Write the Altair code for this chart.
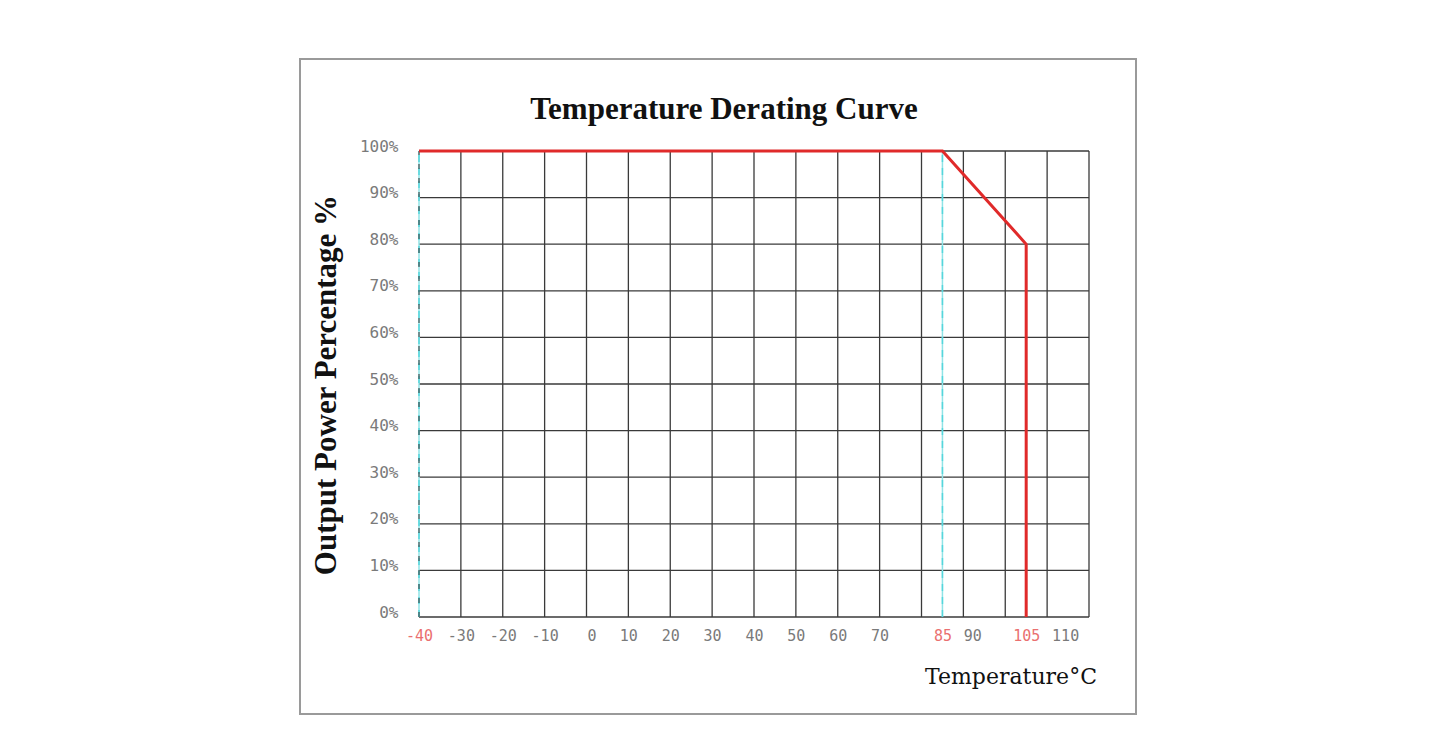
import altair as alt
import pandas as pd

# ---- data ----
curve_temp = [-40, 85, 105, 105]
curve_power = [100, 100, 80, 0]
x_tick_labels = [-40, -30, -20, -10, 0, 10, 20, 30, 40, 50, 60, 70, 85, 90, 105, 110]
red_ticks = [-40, 85, 105]
grid_x = [-30, -20, -10, 0, 10, 20, 30, 40, 50, 60, 70, 80, 90, 100, 110, 120]
grid_y = [0, 10, 20, 30, 40, 50, 60, 70, 80, 90, 100]
y_tick_labels = [0, 10, 20, 30, 40, 50, 60, 70, 80, 90, 100]
marker_temps = [-40, 85]

title_text = "Temperature Derating Curve"
y_title_text = "Output Power Percentage %"
x_title_text = "Temperature\u00b0C"

X_DOMAIN = [-40, 120]
Y_DOMAIN = [0, 100]

curve_df = pd.DataFrame({"temp": curve_temp, "power": curve_power, "order": list(range(len(curve_temp)))})
vgrid_df = pd.DataFrame({"x": grid_x, "y0": [Y_DOMAIN[0]] * len(grid_x), "y1": [Y_DOMAIN[1]] * len(grid_x)})
hgrid_df = pd.DataFrame({"y": grid_y, "x0": [X_DOMAIN[0]] * len(grid_y), "x1": [X_DOMAIN[1]] * len(grid_y)})
marker_df = pd.DataFrame({"x": marker_temps, "y0": [Y_DOMAIN[0]] * 2, "y1": [Y_DOMAIN[1]] * 2})

xscale = alt.Scale(domain=X_DOMAIN, nice=False, zero=False)
yscale = alt.Scale(domain=Y_DOMAIN, nice=False)

LABEL_FONT = "DejaVu Sans Mono"
SERIF = "Liberation Serif"

red_expr = " || ".join(f"datum.value == {v}" for v in red_ticks)

x_axis = alt.Axis(
    values=x_tick_labels, title=None, domain=False, ticks=False, grid=False,
    labelFont=LABEL_FONT, labelFontSize=15, labelPadding=11,
    labelExpr="'' + datum.value",
    labelColor=alt.ExprRef(expr=f"({red_expr}) ? '#ea7070' : '#7a7a7a'"),
    labelOffset=alt.ExprRef(expr="datum.value == 110 ? 18 : (datum.value == 90 ? 9 : (datum.value == 0 ? 5 : 0))"),
    labelFlush=False, labelOverlap=False,
)
y_axis = alt.Axis(
    values=y_tick_labels, title=None, domain=False, ticks=False, grid=False,
    labelFont=LABEL_FONT, labelFontSize=16, labelPadding=21, labelColor="#7a7a7a",
    labelExpr="datum.value + '%'", labelOffset=-5, labelFlush=False,
)

# outer frame
frame = alt.Chart(pd.DataFrame({"k": [0]})).mark_rect(
    fillOpacity=0, stroke="#9a9a9a", strokeWidth=2
).encode(x=alt.value(-119), x2=alt.value(717), y=alt.value(-92), y2=alt.value(563))

vgrid = alt.Chart(vgrid_df).mark_rule(color="#3a3a3a", strokeWidth=1.3).encode(
    x=alt.X("x:Q", scale=xscale, axis=x_axis),
    y=alt.Y("y0:Q", scale=yscale, axis=y_axis),
    y2="y1:Q",
)
hgrid = alt.Chart(hgrid_df).mark_rule(color="#3a3a3a", strokeWidth=1.3).encode(
    y=alt.Y("y:Q", scale=yscale),
    x=alt.X("x0:Q", scale=xscale),
    x2="x1:Q",
)
cyan = alt.Chart(marker_df).mark_rule(color="#8fe3e6", strokeWidth=1.5).encode(
    x=alt.X("x:Q", scale=xscale), y=alt.Y("y0:Q", scale=yscale), y2="y1:Q"
)
cyan_dash = alt.Chart(marker_df).mark_rule(color="#55d6dc", strokeWidth=1.5, strokeDash=[7, 6]).encode(
    x=alt.X("x:Q", scale=xscale), y=alt.Y("y0:Q", scale=yscale), y2="y1:Q"
)
left_dash = alt.Chart(marker_df[marker_df.x == X_DOMAIN[0]]).mark_rule(
    color="#333333", strokeWidth=1, strokeDash=[5, 9]
).encode(x=alt.X("x:Q", scale=xscale), y=alt.Y("y0:Q", scale=yscale), y2="y1:Q")

curve = alt.Chart(curve_df).mark_line(color="#e02a2a", strokeWidth=3, strokeJoin="miter").encode(
    x=alt.X("temp:Q", scale=xscale),
    y=alt.Y("power:Q", scale=yscale),
    order="order:Q",
)

title = alt.Chart(pd.DataFrame({"t": [title_text]})).mark_text(
    font=SERIF, fontSize=31, fontWeight="bold", color="#111111", align="center", baseline="middle"
).encode(text="t:N", x=alt.value(305), y=alt.value(-41))

y_title = alt.Chart(pd.DataFrame({"t": [y_title_text]})).mark_text(
    font=SERIF, fontSize=31, fontWeight="bold", color="#111111", align="center", baseline="middle", angle=270
).encode(text="t:N", x=alt.value(-92), y=alt.value(234))

x_title = alt.Chart(pd.DataFrame({"t": [x_title_text]})).mark_text(
    font="DejaVu Serif", fontSize=22, color="#111111", align="center", baseline="middle"
).encode(text="t:N", x=alt.value(592), y=alt.value(526))

chart = alt.layer(
    frame, vgrid, hgrid, cyan, cyan_dash, left_dash, curve, title, y_title, x_title
).properties(
    width=670, height=466,
    autosize=alt.AutoSizeParams(type="none"),
    padding={"left": 411, "top": 143, "right": 344, "bottom": 128},
    background="white",
).configure_view(strokeWidth=0)

chart.save("out.html", embed_options={"renderer": "svg", "actions": False})
